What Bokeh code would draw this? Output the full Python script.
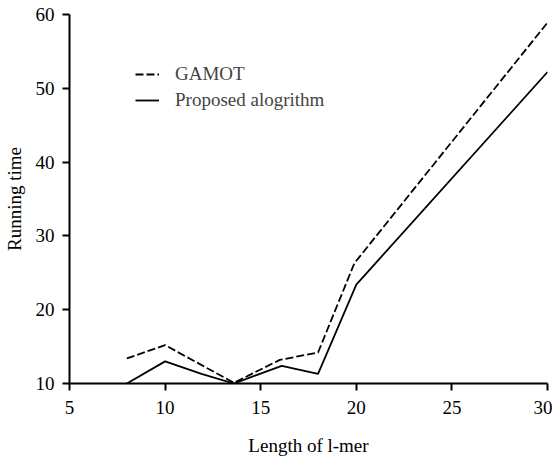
from bokeh.plotting import figure
from bokeh.models import Range1d, Legend, LegendItem, FixedTicker
from bokeh.embed import file_html
from bokeh.resources import INLINE

gamot_x = [8, 10, 13.6, 16, 18, 19.9, 30]
gamot_y = [13.4, 15.2, 10.1, 13.2, 14.2, 26.3, 58.9]
prop_x = [8, 10, 11.9, 13.6, 16.1, 18, 20, 30]
prop_y = [10.0, 13.0, 11.3, 10.0, 12.4, 11.3, 23.4, 52.2]
x_ticks = [5, 10, 15, 20, 25, 30]
y_ticks = [10, 20, 30, 40, 50, 60]
x_label = "Length of l-mer"
y_label = "Running time"

FONT = "'Liberation Serif', 'Times New Roman', serif"

p = figure(width=552, height=459, output_backend="svg", toolbar_location=None,
           x_range=Range1d(5, 30), y_range=Range1d(10, 60),
           min_border_left=68, min_border_right=5, min_border_top=14, min_border_bottom=76)
p.outline_line_color = None
p.grid.visible = False
p.background_fill_color = "white"
p.border_fill_color = "white"

r1 = p.line(gamot_x, gamot_y, line_color="black", line_width=1.8, line_dash="8 3")
r2 = p.line(prop_x, prop_y, line_color="black", line_width=1.8)

for ax in (p.xaxis[0], p.yaxis[0]):
    ax.axis_line_width = 2
    ax.major_tick_line_width = 2
    ax.major_tick_out = 7
    ax.major_tick_in = 0
    ax.minor_tick_line_color = None
    ax.major_label_text_font = FONT
    ax.major_label_text_font_size = "19px"
    ax.major_label_text_color = "black"
    ax.axis_label_text_font = FONT
    ax.axis_label_text_font_size = "19px"
    ax.axis_label_text_font_style = "normal"
    ax.axis_label_text_color = "black"

p.xaxis.ticker = FixedTicker(ticks=x_ticks)
p.yaxis.ticker = FixedTicker(ticks=y_ticks)
p.xaxis.axis_label = x_label
p.yaxis.axis_label = y_label
p.xaxis.major_label_standoff = 10
p.yaxis.major_label_standoff = 8
p.xaxis.axis_label_standoff = 18
p.yaxis.axis_label_standoff = 8

legend = Legend(items=[LegendItem(label="GAMOT", renderers=[r1]),
                       LegendItem(label="Proposed alogrithm", renderers=[r2])],
                location=(66, 272), border_line_color=None, background_fill_alpha=0,
                padding=0, margin=0, spacing=4, glyph_width=24, glyph_height=22,
                label_height=22, label_standoff=16,
                label_text_font=FONT, label_text_font_size="19px")
p.add_layout(legend)

open("out.html", "w").write(file_html(p, INLINE))
